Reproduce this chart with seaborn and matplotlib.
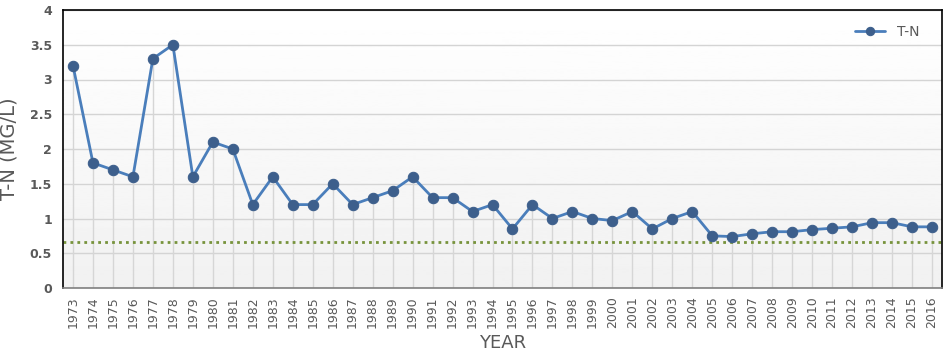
import numpy as np
import pandas as pd
import matplotlib
matplotlib.use('Agg')
import matplotlib.pyplot as plt
import seaborn as sns

# data
years = list(range(1973, 2017))
tn = [3.2, 1.8, 1.7, 1.6, 3.3, 3.5, 1.6, 2.1, 2.0, 1.2,
      1.6, 1.2, 1.2, 1.5, 1.2, 1.3, 1.4, 1.6, 1.3, 1.3,
      1.1, 1.2, 0.85, 1.2, 1.0, 1.1, 1.0, 0.97, 1.1, 0.85,
      1.0, 1.1, 0.75, 0.74, 0.78, 0.81, 0.81, 0.84, 0.86, 0.88,
      0.94, 0.94, 0.88, 0.88]
standard = 0.66

df = pd.DataFrame({'year': [str(y) for y in years], 'tn': tn})

sns.set_style('white')
plt.rcParams['font.family'] = ['DejaVu Sans']

fig = plt.figure(figsize=(9.49, 3.54), dpi=100)
ax = fig.add_axes([63/949, 1 - 288/354, (942-63)/949, (288-10)/354])

# background gradient: white at top -> light gray at bottom
grad = np.linspace(1.0, 0.945, 256).reshape(-1, 1)
ax.imshow(grad, extent=[0, 1, 0, 1], origin='upper', transform=ax.transAxes,
          cmap='gray', vmin=0, vmax=1, aspect='auto', zorder=0)

# drop lines from each point to the axis
ax.vlines(np.arange(len(years)), 0, tn, color='#d6d6d6', lw=1, zorder=1.5)

sns.lineplot(data=df, x='year', y='tn', ax=ax, color='#4a7ebb', lw=2,
             marker='o', markersize=7.5, markerfacecolor='#3d5f8c',
             markeredgecolor='#3d5f8c', label='T-N', zorder=3, sort=False)

ax.axhline(standard, color='#77933c', ls=(0, (1, 1.5)), lw=2, zorder=2)

ax.set_xlim(-0.5, len(years) - 0.5)
ax.set_ylim(0, 4)
ax.set_yticks(np.arange(0, 4.01, 0.5))
ax.set_yticklabels(['0', '0.5', '1', '1.5', '2', '2.5', '3', '3.5', '4'])
ax.grid(True, axis='y', color='#d4d4d4', lw=1, zorder=1)
ax.grid(False, axis='x')
ax.set_axisbelow(True)

ax.tick_params(axis='x', rotation=90, labelsize=9, labelcolor='#595959', length=0, pad=6)
ax.tick_params(axis='y', labelsize=9, labelcolor='#595959', length=0, pad=8)
for t in ax.get_yticklabels():
    t.set_fontweight('bold')

ax.set_xlabel('YEAR', fontsize=13, color='#595959', labelpad=4)
ax.set_ylabel('T-N (MG/L)', fontsize=14, color='#595959', labelpad=8)

for s in ['left', 'top', 'right']:
    ax.spines[s].set_color('black')
    ax.spines[s].set_linewidth(1.2)
ax.spines['bottom'].set_color('#808080')
ax.spines['bottom'].set_linewidth(1.2)

leg = ax.legend(loc='upper right', frameon=False, fontsize=10, markerscale=0.8,
                handlelength=2.2, borderaxespad=0.3, bbox_to_anchor=(0.985, 0.98))
for t in leg.get_texts():
    t.set_color('#595959')

fig.savefig('out.png', dpi=100)
